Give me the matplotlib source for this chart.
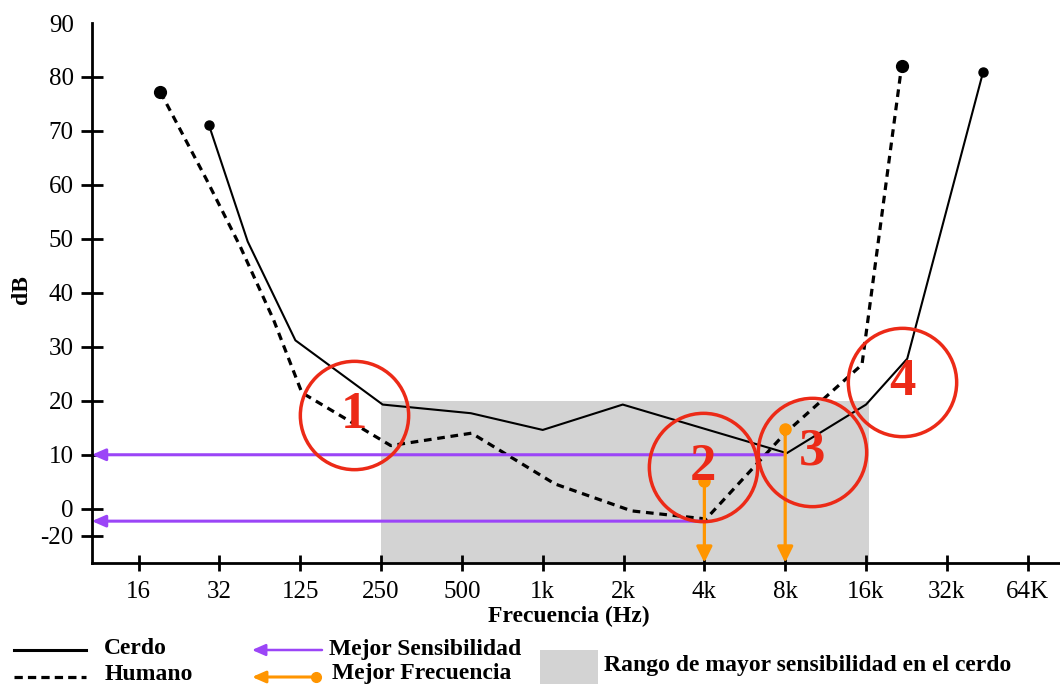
import matplotlib
matplotlib.use('Agg')
import matplotlib.pyplot as plt
from matplotlib.patches import Rectangle

plt.rcParams['font.family'] = ['Liberation Serif', 'DejaVu Serif']

# ---------------- data ----------------
freq_labels = ['16', '32', '125', '250', '500', '1k', '2k', '4k', '8k', '16k', '32k', '64K']
freq_pos = list(range(len(freq_labels)))

db_ticks = [-5, 0, 10, 20, 30, 40, 50, 60, 70, 80, 90]
db_labels = ['-20', '0', '10', '20', '30', '40', '50', '60', '70', '80', '90']

cerdo_x = [0.87, 1.35, 1.94, 3.02, 4.11, 5.0, 5.99, 8.02, 9.0, 9.51, 10.45]
cerdo_y = [71.1, 49.5, 31.2, 19.3, 17.7, 14.6, 19.3, 10.3, 19.3, 27.8, 81.0]

humano_x = [0.27, 0.84, 1.26, 1.67, 2.02, 3.12, 4.12, 5.15, 6.1, 7.02, 8.0, 8.95, 9.44]
humano_y = [77.2, 61.0, 48.5, 35.0, 21.5, 11.7, 14.0, 4.6, -0.4, -1.9, 14.0, 26.7, 82.0]

range_x = [3.0, 9.04]
range_y = [-10, 20]

sens_x = [8.0, 7.0]
sens_y = [10.0, -2.3]

best_freq_x = [7.0, 8.0]
best_freq_y = [5.1, 14.8]

circle_x = [2.67, 6.98, 8.33, 9.45]
circle_y = [17.4, 7.7, 10.6, 23.5]
circle_labels = ['1', '2', '3', '4']

legend_labels = ['Cerdo', 'Humano', 'Mejor Sensibilidad', 'Mejor Frecuencia',
                 'Rango de mayor sensibilidad en el cerdo']

PURPLE = '#9b45f7'
ORANGE = '#ff9500'
RED = '#ec2a17'
GRAY = '#d3d3d3'

# ---------------- figure ----------------
W, H = 1060, 684
fig = plt.figure(figsize=(W / 100, H / 100), dpi=100)
ax = fig.add_axes([91.8 / W, (H - 562.7) / H, 1 - 91.8 / W, (562.7 - 23) / H])
ax.set_xlim(-0.579, 11.4)
ax.set_ylim(-10, 90)

for s in ['top', 'right']:
    ax.spines[s].set_visible(False)
for s in ['left', 'bottom']:
    ax.spines[s].set_linewidth(2)

ax.set_xticks(freq_pos)
ax.set_xticklabels(freq_labels)
ax.set_yticks(db_ticks)
ax.set_yticklabels(db_labels)
ax.tick_params(axis='x', direction='inout', length=12, width=2, pad=7.5, labelsize=18)
ax.tick_params(axis='y', direction='inout', length=16, width=2, pad=5, labelsize=18)
ax.yaxis.get_major_ticks()[-1].tick1line.set_visible(False)

# shaded range
ax.add_patch(Rectangle((range_x[0], range_y[0]), range_x[1] - range_x[0],
                       range_y[1] - range_y[0], facecolor=GRAY, edgecolor='none', zorder=0))

# curves
ax.plot(cerdo_x, cerdo_y, color='black', lw=1.5, marker='o', ms=6.5,
        markevery=[0, len(cerdo_x) - 1], zorder=3)
ax.plot(humano_x, humano_y, color='black', lw=2.3, linestyle=(0, (2.4, 1.8)),
        marker='o', ms=8.5, markevery=[0, len(humano_x) - 1], zorder=3)

# best sensitivity arrows (purple)
x_left = ax.get_xlim()[0]
for sx, sy in zip(sens_x, sens_y):
    ax.annotate('', xy=(x_left, sy), xytext=(sx, sy),
                arrowprops=dict(arrowstyle='-|>,head_length=0.8,head_width=0.35',
                                color=PURPLE, lw=2.2, shrinkA=0, shrinkB=0,
                                mutation_scale=10),
                zorder=4, annotation_clip=False)

# best frequency arrows (orange)
y_bottom = ax.get_ylim()[0]
for fx, fy in zip(best_freq_x, best_freq_y):
    ax.annotate('', xy=(fx, y_bottom), xytext=(fx, fy),
                arrowprops=dict(arrowstyle='-|>,head_length=0.95,head_width=0.47',
                                color=ORANGE, lw=2.3, shrinkA=0, shrinkB=0,
                                mutation_scale=10),
                zorder=5, annotation_clip=False)
ax.plot(best_freq_x, best_freq_y, 'o', color=ORANGE, ms=8, zorder=5)

# red circles with numbers
ax.plot(circle_x, circle_y, 'o', ms=78, mfc='none', mec=RED, mew=2.5, zorder=6)
for cx, cy, lbl in zip(circle_x, circle_y, circle_labels):
    ax.text(cx, cy, lbl, color=RED, fontsize=38, fontweight='bold',
            ha='center', va='center', zorder=7)

# ---------------- overlay (labels & legend) in pixel coords ----------------
ov = fig.add_axes([0, 0, 1, 1], zorder=10)
ov.set_xlim(0, W)
ov.set_ylim(H, 0)
ov.axis('off')
ov.patch.set_alpha(0)

ov.text(568.6, 616, 'Frecuencia (Hz)', fontsize=17, fontweight='bold', ha='center', va='center')
ov.text(22, 290, 'dB', fontsize=17, fontweight='bold', ha='center', va='center', rotation=90)

# legend: Cerdo
ov.plot([14, 86], [650, 650], color='black', lw=2.2)
ov.text(104, 649, legend_labels[0], fontsize=17, fontweight='bold', va='center', ha='left')
# Humano
ov.plot([14, 86], [677, 677], color='black', lw=2.3, linestyle=(0, (2.6, 1.6)))
ov.text(105, 674, legend_labels[1], fontsize=17, fontweight='bold', va='center', ha='left')
# Mejor Sensibilidad
ov.annotate('', xy=(252, 650), xytext=(322, 650),
            arrowprops=dict(arrowstyle='-|>,head_length=0.8,head_width=0.35',
                            color=PURPLE, lw=1.8, shrinkA=0, shrinkB=0, mutation_scale=10))
ov.text(329, 649, legend_labels[2], fontsize=17, fontweight='bold', va='center', ha='left')
# Mejor Frecuencia
ov.annotate('', xy=(252, 677), xytext=(316, 677),
            arrowprops=dict(arrowstyle='-|>,head_length=0.8,head_width=0.35',
                            color=ORANGE, lw=2.2, shrinkA=0, shrinkB=0, mutation_scale=10))
ov.plot([316], [677], 'o', color=ORANGE, ms=7)
ov.text(332, 674, legend_labels[3], fontsize=17, fontweight='bold', va='center', ha='left')
# Rango
ov.add_patch(Rectangle((540, 650), 58, 40, facecolor=GRAY, edgecolor='none'))
ov.text(604, 665, legend_labels[4], fontsize=17, fontweight='bold', va='center', ha='left')

fig.savefig('out.png', dpi=100)
